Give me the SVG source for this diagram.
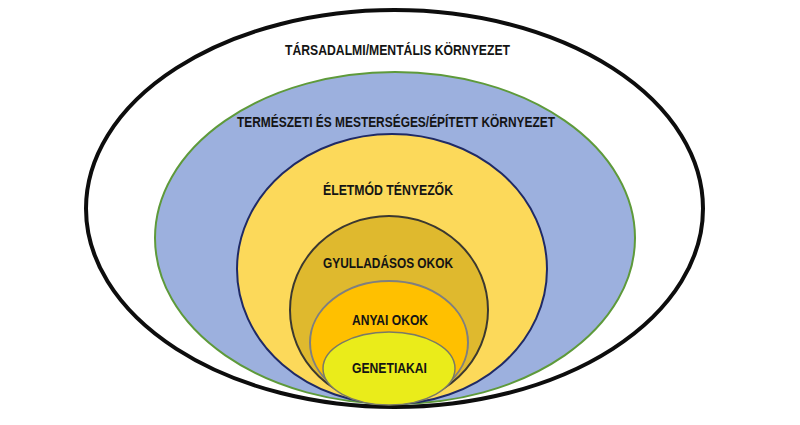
<svg xmlns="http://www.w3.org/2000/svg" width="800" height="425" viewBox="0 0 800 425">
<style>
.lbl{font-family:"Liberation Sans",Arial,sans-serif;font-weight:bold;font-size:15px;fill:#141414;text-anchor:middle}
</style>
<rect width="800" height="425" fill="#ffffff"/>
<g id="tarsadalmi">
<ellipse cx="394.5" cy="208.5" rx="308.5" ry="198.5" fill="#ffffff" stroke="#0d0d0d" stroke-width="4"/>
<text class="lbl" x="397.5" y="55" textLength="225" lengthAdjust="spacingAndGlyphs">TÁRSADALMI/MENTÁLIS KÖRNYEZET</text>
</g>
<g id="termeszeti">
<ellipse cx="395" cy="238" rx="240" ry="166" fill="#9CB0DE" stroke="#5E9A3A" stroke-width="2"/>
<text class="lbl" x="396" y="127" textLength="318" lengthAdjust="spacingAndGlyphs">TERMÉSZETI ÉS MESTERSÉGES/ÉPÍTETT KÖRNYEZET</text>
</g>
<g id="eletmod">
<ellipse cx="392" cy="269" rx="155" ry="135" fill="#FCD95A" stroke="#1F2A66" stroke-width="2"/>
<text class="lbl" x="388" y="195" textLength="130" lengthAdjust="spacingAndGlyphs">ÉLETMÓD TÉNYEZŐK</text>
</g>
<g id="gyulladasos">
<ellipse cx="389" cy="310" rx="99" ry="94" fill="#DFB92E" stroke="#3B3830" stroke-width="2"/>
<text class="lbl" x="388" y="268" textLength="130" lengthAdjust="spacingAndGlyphs">GYULLADÁSOS OKOK</text>
</g>
<g id="anyai">
<ellipse cx="389" cy="342.5" rx="79" ry="61.5" fill="#FFC000" stroke="#7F7F7F" stroke-width="2"/>
<text class="lbl" x="390" y="325" textLength="76" lengthAdjust="spacingAndGlyphs">ANYAI OKOK</text>
</g>
<g id="genetiakai">
<ellipse cx="389" cy="368.5" rx="66" ry="36.5" fill="#EAEC1A" stroke="#7A7A66" stroke-width="1.5"/>
<text class="lbl" x="389.5" y="373" textLength="75" lengthAdjust="spacingAndGlyphs">GENETIAKAI</text>
</g>
</svg>
